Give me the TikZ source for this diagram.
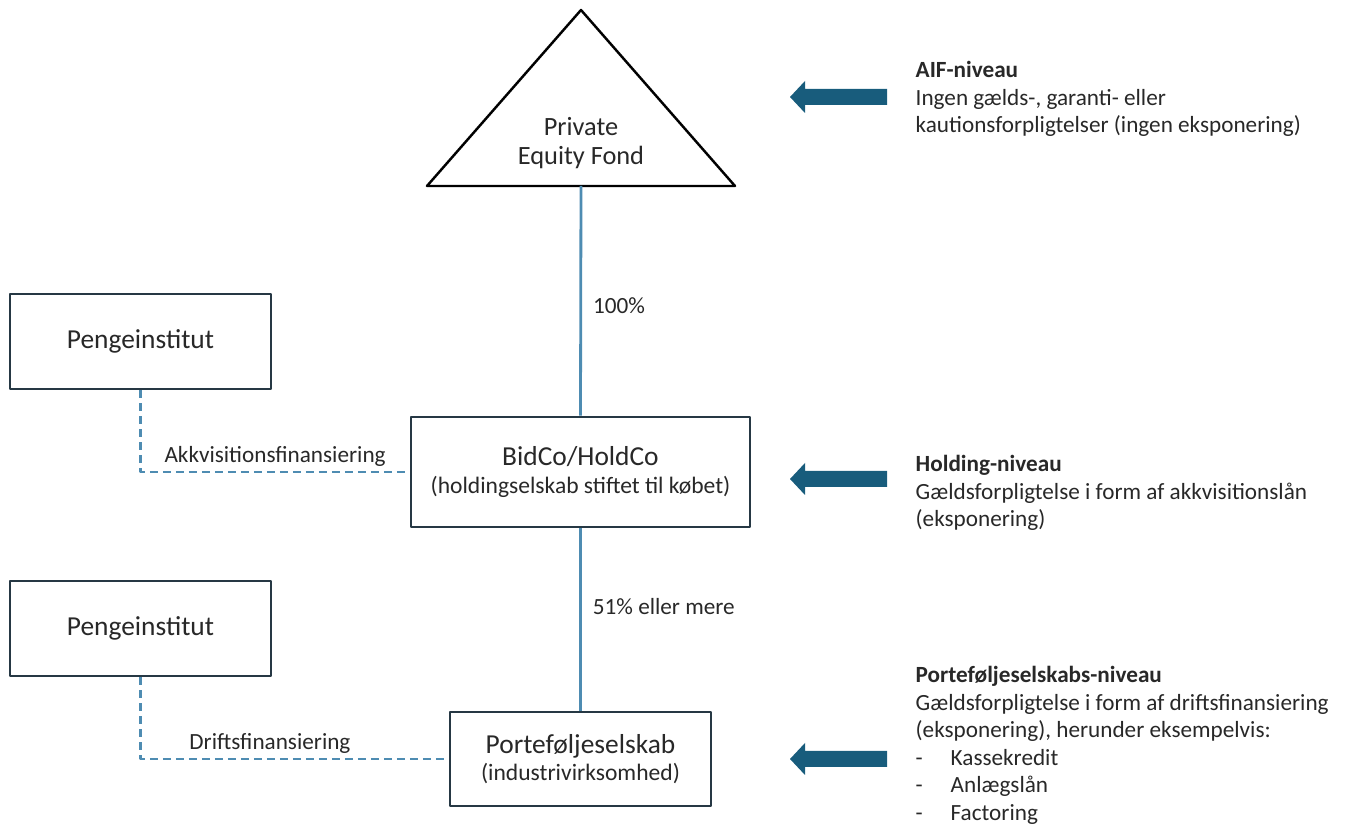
\documentclass[tikz,border=0pt]{standalone}
\usepackage{fontspec}
\setmainfont{Carlito}
\usetikzlibrary{positioning}
\definecolor{linjeblaa}{RGB}{78,140,178}
\definecolor{pilblaa}{RGB}{24,92,124}
\definecolor{kant}{RGB}{38,56,68}
\definecolor{tekst}{RGB}{40,40,40}
\newcommand\storfont{\fontsize{7.8}{7.7}\selectfont}
\newcommand\mellemfont{\fontsize{6.7}{7.7}\selectfont}
\newcommand\lillefont{\fontsize{6.6}{7.8}\selectfont}
\begin{document}
\begin{tikzpicture}[x=0.1mm, y=-0.1mm, line join=round,
	boks/.style={draw=kant, line width=0.75pt, fill=white, align=center, inner sep=0pt, text=tekst, font=\storfont},
	linje/.style={draw=linjeblaa, line width=0.8pt},
	stiplet/.style={linje, dash pattern=on 0.8mm off 0.5mm},
	etiket/.style={text=tekst, font=\lillefont, inner sep=0pt},
	niveau/.style={etiket, align=left, anchor=north west},
	]
	\useasboundingbox (0,0) rectangle (1354,825);
	\path
	(581,10) coordinate (top)
	(427,186) coordinate (vbund)
	(735,186) coordinate (hbund)
	(581,186) coordinate (pef)
	;
	% fonden
	\draw[draw=black, line width=0.7pt] (vbund)--(top)--(hbund)--cycle;
	\node[boks, draw=none, fill=none, font=\fontsize{7.5}{8.5}\selectfont] (pefnavn) at (581,143) {Private\\Equity Fond};
	% selskaber og banker
	\node[boks, minimum width=33.9mm, minimum height=11mm] (bidco) at (580.5,472) {BidCo/HoldCo\\{\mellemfont (holdingselskab stiftet til købet)}};
	\node[boks, minimum width=26.1mm, minimum height=9.4mm] (portco) at (580.5,759) {Porteføljeselskab\\{\mellemfont (industrivirksomhed)}};
	\node[boks, minimum width=26.1mm, minimum height=9.5mm] (bank1) at (140.5,341.5) {Pengeinstitut};
	\node[boks, minimum width=26.1mm, minimum height=9.5mm] (bank2) at (140.5,628.5) {Pengeinstitut};
	% ejerskab
	\draw[linje] (pef)--(bidco.north) node[etiket, right=1.1mm, pos=0.52]{100\%};
	\draw[linje] (bidco.south)--(portco.north) node[etiket, right=1.1mm, pos=0.43]{51\% eller mere};
	% finansiering
	\draw[stiplet] (bank1.south) |- node[etiket, above=0.4mm, pos=0.75]{Akkvisitionsfinansiering} (bidco.west);
	\draw[stiplet] (bank2.south) |- node[etiket, above=0.4mm, pos=0.71]{Driftsfinansiering} (portco.west);
	% pile
	\foreach \y in {97,479,759}
	\fill[pilblaa] (887,\y-8)--(805,\y-8)--(805,\y-16)--(790,\y)--(805,\y+16)--(805,\y+8)--(887,\y+8)--cycle;
	% niveauer
	\node[niveau] (aif) at (915,61) {\textbf{AIF-niveau}\\Ingen gælds-, garanti- eller\\kautionsforpligtelser (ingen eksponering)};
	\node[niveau] (holding) at (915,455) {\textbf{Holding-niveau}\\Gældsforpligtelse i form af akkvisitionslån\\(eksponering)};
	\node[niveau] (portniv) at (915,666) {\textbf{Porteføljeselskabs-niveau}\\Gældsforpligtelse i form af driftsfinansiering\\(eksponering), herunder eksempelvis:\\\makebox[3.5mm][l]{-}Kassekredit\\\makebox[3.5mm][l]{-}Anlægslån\\\makebox[3.5mm][l]{-}Factoring};
\end{tikzpicture}
\end{document}
